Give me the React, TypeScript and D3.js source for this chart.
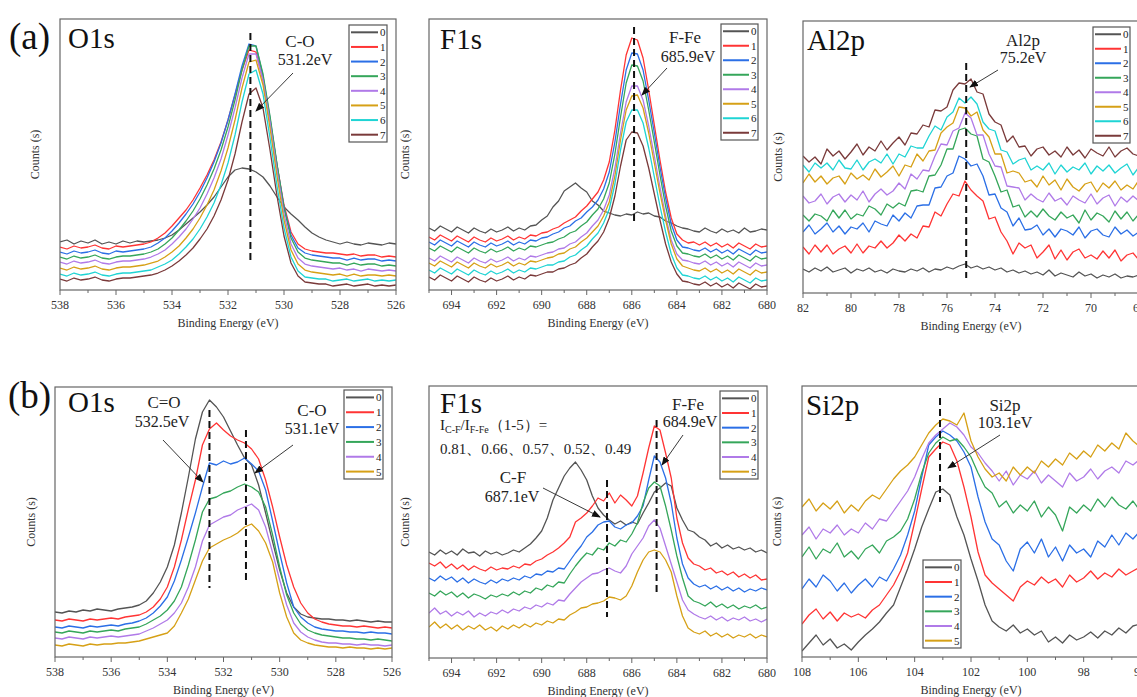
import React from 'react';
import * as d3 from 'd3';

const FONT = "'Liberation Serif', 'Times New Roman', 'DejaVu Serif', serif";
const COLORS = ['#545454', '#ff3434', '#2b6fe6', '#35a65a', '#b07ae8', '#d6a016', '#1fd4d4', '#7a3a3a'];
const NAMES = ['0', '1', '2', '3', '4', '5', '6', '7'];
const STEP = 0.25;

// ---------- (a) O1s ----------
const aO1sRange = [538, 526];
const aO1sTicks = [538, 536, 534, 532, 530, 528, 526];
const aO1s0 = [48,50,46,49,47,50,46,48,46,49,47,49,48,49,50,52,55,60,66,72,78,85,93,103,113,120,122,121,118,113,104,93,83,76,70,63,57,53,50,48,46,48,46,45,47,46,45,47,46];
const aO1s1 = [43,41,44,42,43,45,42,41,44,43,44,45,46,48,52,57,64,72,80,90,102,115,130,148,170,195,220,240,238,210,170,125,85,58,46,41,39,38,37,37,36,35,36,34,35,35,33,34,33];
const aO1s2 = [38,36,39,37,38,40,37,36,39,38,39,40,41,43,47,52,59,67,76,86,98,112,128,147,170,196,224,246,244,214,172,125,83,55,42,37,35,34,33,32,32,30,32,30,31,31,29,30,29];
const aO1s3 = [33,31,34,32,33,35,32,31,33,34,34,35,36,38,41,46,52,60,69,79,91,105,121,140,163,190,220,244,244,216,174,126,82,52,38,32,30,29,28,27,27,25,27,25,26,26,24,25,24];
const aO1s4 = [28,26,29,27,28,30,27,26,28,29,29,30,31,33,36,40,46,53,61,71,82,96,112,131,155,182,212,236,236,210,168,120,76,46,32,26,24,23,22,21,22,20,21,19,21,20,19,20,19];
const aO1s5 = [22,20,23,21,22,24,21,20,22,23,23,24,25,27,29,33,38,44,52,61,72,85,100,119,142,170,202,228,230,205,162,114,70,40,26,20,18,17,16,15,16,14,16,14,15,15,14,15,14];
const aO1s6 = [16,14,17,15,16,18,15,14,16,17,17,18,19,20,23,26,30,36,43,51,61,73,87,105,127,155,188,216,220,196,152,104,62,33,19,13,12,11,11,9,10,11,9,10,11,9,10,9,10];
const aO1s7 = [11,9,12,10,11,13,10,9,11,12,12,13,14,15,17,20,24,29,35,42,51,61,74,90,110,136,168,196,202,182,140,94,54,27,14,8,7,6,6,4,5,6,4,5,6,4,5,4,5];

// ---------- (a) F1s ----------
const aF1sRange = [695, 680];
const aF1sTicks = [694, 692, 690, 688, 686, 684, 682, 680];
const aF1s0 = [62,59,64,61,58,63,60,57,62,59,57,61,58,60,63,59,62,60,64,65,70,74,83,89,99,103,107,102,98,89,85,79,77,75,74,76,75,78,76,77,74,73,69,67,64,62,61,59,58,62,59,57,61,58,60,57,62,58,59,61,60];
const aF1s1 = [53,50,55,52,49,54,51,48,53,50,48,52,49,51,54,50,53,51,55,54,57,58,61,63,67,70,73,79,84,91,98,110,128,160,200,235,252,250,232,200,165,130,98,72,56,50,47,48,45,48,44,47,43,46,42,47,44,41,46,43,44];
const aF1s2 = [48,45,50,47,44,49,46,43,48,45,43,47,44,46,49,45,48,46,50,49,52,53,56,58,62,64,69,72,78,83,90,101,118,148,186,220,237,236,220,190,157,123,92,66,50,43,42,40,39,42,38,41,37,40,36,41,38,35,40,37,38];
const aF1s3 = [42,39,44,41,38,43,40,37,42,39,37,41,38,40,43,39,42,40,44,43,45,47,48,51,53,57,59,64,68,75,81,91,107,136,173,207,225,224,209,180,148,115,84,59,44,37,36,34,33,36,32,35,31,34,30,35,32,29,34,31,32];
const aF1s4 = [32,29,34,31,28,33,30,27,32,29,27,31,28,30,33,29,32,30,34,33,35,37,38,41,42,46,48,53,57,64,70,80,95,122,157,188,204,204,190,164,134,103,74,50,36,30,29,27,26,29,25,28,24,27,23,28,25,22,27,24,25];
const aF1s5 = [27,24,29,26,23,28,25,22,27,24,22,26,23,25,28,24,27,25,29,28,30,32,33,36,37,41,43,48,52,58,64,74,88,114,150,180,194,195,182,157,127,97,70,46,31,24,22,20,19,22,18,21,17,20,16,21,18,15,20,17,18];
const aF1s6 = [20,17,22,19,16,21,18,15,20,17,15,19,16,18,21,17,20,18,22,21,23,25,25,28,29,33,35,40,44,51,57,67,81,106,140,168,180,180,167,142,113,84,58,36,22,15,14,12,11,14,10,13,9,12,8,13,10,7,12,9,10];
const aF1s7 = [13,10,15,12,9,14,11,8,13,10,8,12,9,11,14,10,13,11,15,14,16,18,18,21,22,25,27,32,36,43,49,58,72,94,124,150,158,157,144,122,96,70,46,28,16,9,8,6,5,8,4,7,3,6,2,7,4,1,6,3,4];

// ---------- (a) Al2p ----------
const aAlRange = [82, 68];
const aAlTicks = [82, 80, 78, 76, 74, 72, 70, 68];
const aAl0 = [24,21,25,22,26,21,23,25,20,24,22,25,21,23,20,24,22,21,24,22,25,21,24,23,26,24,27,29,25,27,24,26,23,25,21,23,20,22,19,21,18,23,17,20,18,16,21,17,19,15,18,16,19,15,17,16,18];
const aAl1 = [46,39,48,41,48,39,44,47,40,49,40,47,45,52,45,50,58,52,59,55,67,66,81,77,89,99,97,112,103,97,92,74,76,61,52,39,50,45,48,35,41,48,34,43,33,41,44,35,38,34,42,35,43,32,38,40,33];
const aAl2 = [61,68,59,64,70,61,67,59,66,64,70,61,72,69,67,78,72,80,75,87,88,88,105,106,117,120,137,134,127,129,117,98,99,85,81,67,75,63,64,68,58,64,56,64,62,58,66,55,62,64,58,56,66,59,63,57,61];
const aAl3 = [78,72,79,77,72,83,75,83,74,79,77,87,84,78,89,85,90,87,102,103,101,117,118,128,144,144,163,165,159,157,134,131,117,101,103,86,88,76,82,76,84,77,73,81,75,78,70,83,73,80,77,71,82,74,81,72,79];
const aAl4 = [97,90,92,99,89,96,99,91,98,93,102,91,99,104,98,102,110,104,119,114,123,122,137,149,148,162,165,180,175,158,158,139,127,126,107,106,105,93,99,94,91,100,92,95,88,97,93,90,99,89,95,98,87,96,91,97,92];
const aAl5 = [110,119,111,117,109,115,117,109,120,114,118,113,124,116,121,127,117,128,126,139,132,142,143,160,166,170,186,185,177,181,163,156,139,139,120,122,120,111,113,106,117,108,113,103,114,106,102,109,111,101,110,105,112,103,108,104,113];
const aAl6 = [128,121,130,125,130,123,133,125,124,133,123,131,134,130,139,129,139,136,147,145,145,157,167,163,176,181,195,190,196,189,171,164,162,143,141,129,133,135,123,127,123,130,119,128,121,126,123,130,119,127,122,128,120,125,129,118,126];
const aAl7 = [137,131,136,129,144,137,142,134,141,149,138,146,142,152,143,150,156,148,160,159,168,166,183,182,186,203,210,209,214,201,199,179,171,168,151,157,146,147,137,144,146,138,142,136,146,138,143,135,144,140,137,146,136,142,145,139,137];

// ---------- (b) O1s ----------
const bO1sRange = [538, 526];
const bO1sTicks = [538, 536, 534, 532, 530, 528, 526];
const bO1s0 = [45,44,46,45,47,46,48,47,46,48,49,50,52,56,64,75,90,112,144,180,218,245,257,250,240,226,212,199,192,172,144,115,87,64,50,43,40,39,38,38,37,37,36,37,36,35,36,35,35];
const bO1s1 = [37,36,38,37,36,38,37,38,39,38,40,41,42,45,50,58,70,90,117,148,177,212,228,234,227,221,217,214,208,198,177,150,120,92,70,54,44,38,35,33,32,31,31,30,31,30,29,30,29];
const bO1s2 = [30,29,31,30,29,31,30,31,32,31,33,34,36,39,44,51,60,76,97,120,144,170,194,192,196,193,195,199,193,186,167,136,104,74,50,40,34,30,28,27,26,26,25,25,24,25,24,24,23];
const bO1s3 = [25,24,26,25,24,26,25,26,27,26,28,29,30,33,37,41,47,56,70,92,117,145,158,160,164,166,170,173,170,165,150,122,90,62,44,33,27,24,22,21,20,19,19,18,18,17,18,17,16];
const bO1s4 = [19,18,20,19,18,20,19,20,21,20,21,22,23,26,29,33,37,44,54,70,90,116,132,136,140,142,147,150,153,147,130,104,77,52,34,25,20,17,15,14,14,13,13,12,13,12,12,11,12];
const bO1s5 = [12,11,13,12,11,13,12,13,13,14,14,15,16,18,20,22,24,31,44,58,77,96,109,113,117,120,124,130,133,126,114,95,64,40,24,17,14,12,11,10,10,9,10,9,9,8,9,8,9];

// ---------- (b) F1s ----------
const bF1sRange = [695, 680];
const bF1sTicks = [694, 692, 690, 688, 686, 684, 682, 680];
const bF1s0 = [106,103,108,104,107,103,109,105,106,102,107,104,106,103,105,108,106,110,114,120,127,140,158,170,182,190,196,188,178,162,150,143,138,134,137,133,136,134,145,155,166,170,175,172,150,138,128,126,121,118,112,115,110,113,109,111,108,110,106,108,105];
const bF1s1 = [95,92,96,90,94,89,93,88,92,89,87,91,88,90,89,92,90,94,93,97,99,103,106,110,115,121,136,140,145,152,160,157,165,155,163,158,152,162,185,210,232,228,205,180,140,115,100,94,92,88,90,85,87,83,86,81,84,80,83,78,79];
const bF1s2 = [80,77,82,78,81,76,80,75,79,76,74,78,75,79,77,80,78,82,80,84,83,87,86,90,89,97,105,112,121,126,133,136,137,131,129,133,135,142,152,178,202,196,180,155,120,94,80,74,71,73,69,72,68,71,67,70,66,69,67,70,68];
const bF1s3 = [65,62,67,63,66,61,65,60,64,62,59,63,61,64,62,66,63,67,65,70,68,73,71,76,75,84,92,99,105,103,110,108,115,112,118,116,124,135,155,170,176,172,152,128,102,80,62,57,55,52,56,51,54,50,53,49,52,50,53,49,51];
const bF1s4 = [45,50,44,47,42,46,43,47,41,45,42,46,44,48,45,49,47,51,49,53,51,55,53,58,57,64,70,76,80,84,85,88,90,87,85,92,104,112,120,132,138,130,112,94,76,58,48,44,41,39,42,38,41,37,40,38,41,37,39,36,39];
const bF1s5 = [31,36,30,34,29,33,28,32,29,33,28,31,27,32,29,33,30,34,31,35,33,37,35,39,38,43,46,50,51,54,55,57,61,60,58,62,72,86,98,106,108,106,98,86,62,42,30,26,24,27,22,25,21,24,20,23,21,24,20,23,21];

// ---------- (b) Si2p ----------
const bSiRange = [108, 96];
const bSiTicks = [108, 106, 104, 102, 100, 98, 96];
const bSi0 = [6,14,22,12,18,9,13,7,15,22,28,35,44,52,70,88,108,130,148,165,168,162,140,122,98,76,52,36,30,26,32,24,28,22,26,15,20,14,22,17,20,25,19,26,22,29,24,31,33];
const bSi1 = [33,42,48,38,45,36,44,40,43,39,47,52,62,72,86,104,135,168,200,208,215,212,196,170,140,105,82,74,68,62,56,70,76,72,80,74,78,70,82,75,79,86,78,84,80,88,82,86,90];
const bSi2 = [68,78,70,82,76,66,74,64,72,78,70,80,76,88,102,122,146,180,212,220,226,222,216,205,190,160,135,118,112,96,86,108,115,104,118,100,110,96,112,104,108,100,116,110,122,112,124,118,126];
const bSi3 = [100,110,98,108,104,114,100,106,98,108,112,104,116,120,126,138,158,184,204,214,220,216,218,210,200,184,170,164,150,156,144,152,146,156,140,150,142,126,150,144,152,146,158,150,160,152,148,156,146];
const bSi4 = [122,130,118,128,124,132,122,128,124,134,128,138,136,146,156,166,180,198,214,222,228,234,230,222,210,204,194,186,176,186,172,182,178,186,174,182,176,170,184,176,180,188,178,186,190,184,196,192,198];
const bSi5 = [150,158,146,154,148,156,144,152,146,156,162,158,168,178,186,192,200,212,224,232,238,236,232,244,216,200,188,180,184,176,190,182,190,184,196,190,198,192,204,198,206,200,212,206,214,208,224,216,210];

type TextItem = { t: string; x: number; y: number; size: number; anchor?: string };
type PanelCfg = {
  id: string;
  left: number; right: number; top: number; bottom: number;
  range: number[]; ticks: number[]; series: number[][];
  title: string; titleX: number; titleY: number;
  legend: { x: number; y: number; w: number; h: number };
  dashed: { e: number; y1: number; y2: number }[];
  texts: TextItem[];
  arrows: number[][];
  yLabelX: number;
};

const panels: PanelCfg[] = [
  {
    id: 'aO1s', left: 60, right: 396, top: 19, bottom: 290, range: aO1sRange, ticks: aO1sTicks,
    series: [aO1s0, aO1s1, aO1s2, aO1s3, aO1s4, aO1s5, aO1s6, aO1s7],
    title: 'O1s', titleX: 68, titleY: 48, legend: { x: 349, y: 25, w: 38, h: 117 },
    dashed: [{ e: 531.2, y1: 33, y2: 262 }],
    texts: [{ t: 'C-O', x: 300, y: 47, size: 17 }, { t: '531.2eV', x: 305, y: 65, size: 16 }],
    arrows: [[293, 73, 256, 111]], yLabelX: 36,
  },
  {
    id: 'aF1s', left: 429, right: 767, top: 19, bottom: 290, range: aF1sRange, ticks: aF1sTicks,
    series: [aF1s0, aF1s1, aF1s2, aF1s3, aF1s4, aF1s5, aF1s6, aF1s7],
    title: 'F1s', titleX: 440, titleY: 49, legend: { x: 721, y: 24, w: 37, h: 116 },
    dashed: [{ e: 685.9, y1: 27, y2: 225 }],
    texts: [{ t: 'F-Fe', x: 685, y: 43, size: 17 }, { t: '685.9eV', x: 688, y: 62, size: 16 }],
    arrows: [[667, 68, 642, 95]], yLabelX: 406,
  },
  {
    id: 'aAl', left: 803, right: 1139, top: 21, bottom: 293, range: aAlRange, ticks: aAlTicks,
    series: [aAl0, aAl1, aAl2, aAl3, aAl4, aAl5, aAl6, aAl7],
    title: 'Al2p', titleX: 807, titleY: 50, legend: { x: 1093, y: 27, w: 37, h: 116 },
    dashed: [{ e: 75.2, y1: 63, y2: 278 }],
    texts: [{ t: 'Al2p', x: 1023, y: 46, size: 17 }, { t: '75.2eV', x: 1023, y: 63, size: 16 }],
    arrows: [[998, 70, 970, 87]], yLabelX: 779,
  },
  {
    id: 'bO1s', left: 55, right: 392, top: 387, bottom: 657, range: bO1sRange, ticks: bO1sTicks,
    series: [bO1s0, bO1s1, bO1s2, bO1s3, bO1s4, bO1s5],
    title: 'O1s', titleX: 68, titleY: 412, legend: { x: 344, y: 390, w: 39, h: 89 },
    dashed: [{ e: 532.5, y1: 410, y2: 588 }, { e: 531.2, y1: 430, y2: 580 }],
    texts: [
      { t: 'C=O', x: 164, y: 408, size: 17 }, { t: '532.5eV', x: 162, y: 427, size: 16 },
      { t: 'C-O', x: 312, y: 416, size: 17 }, { t: '531.1eV', x: 312, y: 434, size: 16 },
    ],
    arrows: [[163, 440, 203, 482], [293, 445, 255, 473]], yLabelX: 32,
  },
  {
    id: 'bF1s', left: 429, right: 767, top: 386, bottom: 658, range: bF1sRange, ticks: bF1sTicks,
    series: [bF1s0, bF1s1, bF1s2, bF1s3, bF1s4, bF1s5],
    title: 'F1s', titleX: 440, titleY: 413, legend: { x: 720, y: 391, w: 38, h: 88 },
    dashed: [{ e: 687.1, y1: 480, y2: 617 }, { e: 684.9, y1: 420, y2: 593 }],
    texts: [
      { t: 'C-F', x: 513, y: 483, size: 17 }, { t: '687.1eV', x: 512, y: 502, size: 16 },
      { t: 'F-Fe', x: 688, y: 410, size: 17 }, { t: '684.9eV', x: 690, y: 427, size: 16 },
      { t: '0.81、0.66、0.57、0.52、0.49', x: 440, y: 454, size: 15, anchor: 'start' },
    ],
    arrows: [[543, 488, 600, 517], [683, 435, 662, 465]], yLabelX: 406,
  },
  {
    id: 'bSi', left: 802, right: 1140, top: 386, bottom: 657, range: bSiRange, ticks: bSiTicks,
    series: [bSi0, bSi1, bSi2, bSi3, bSi4, bSi5],
    title: 'Si2p', titleX: 806, titleY: 415, legend: { x: 923, y: 560, w: 38, h: 88 },
    dashed: [{ e: 103.1, y1: 398, y2: 502 }],
    texts: [{ t: 'Si2p', x: 1005, y: 411, size: 17 }, { t: '103.1eV', x: 1005, y: 428, size: 16 }],
    arrows: [[1000, 435, 948, 468]], yLabelX: 778,
  },
];

function Panel({ p }: { p: PanelCfg }) {
  const x = d3.scaleLinear().domain(p.range).range([p.left, p.right]);
  const y = d3.scaleLinear().domain([0, p.bottom - p.top]).range([p.bottom, p.top]);
  const start = p.range[0];
  const line = d3.line<number>().x((_, i) => x(start - i * STEP)).y((v) => y(v));
  const lo = Math.min(p.range[0], p.range[1]);
  const hi = Math.max(p.range[0], p.range[1]);
  const minor = d3.range(Math.ceil(lo), hi + 0.001, 1).filter((v) => !p.ticks.includes(v));
  const n = p.series.length;
  const rowH = p.legend.h / n;
  const font = { fontFamily: FONT };
  return (
    <g>
      <defs>
        <clipPath id={`clip-${p.id}`}>
          <rect x={p.left} y={p.top} width={p.right - p.left} height={p.bottom - p.top} />
        </clipPath>
      </defs>
      <g clipPath={`url(#clip-${p.id})`}>
        {p.series.map((s, i) => (
          <path key={i} d={line(s) || ''} fill="none" stroke={COLORS[i]} strokeWidth={1.3} strokeLinejoin="round" />
        ))}
      </g>
      <rect x={p.left} y={p.top} width={p.right - p.left} height={p.bottom - p.top} fill="none" stroke="#666" strokeWidth={1.2} />
      {p.ticks.map((t) => (
        <g key={t}>
          <line x1={x(t)} x2={x(t)} y1={p.bottom} y2={p.bottom + 5} stroke="#666" strokeWidth={1} />
          <text x={x(t)} y={p.bottom + 19} textAnchor="middle" fontSize={12} fill="#333" style={font}>{t}</text>
        </g>
      ))}
      {minor.map((t) => (
        <line key={`m${t}`} x1={x(t)} x2={x(t)} y1={p.bottom} y2={p.bottom + 3} stroke="#666" strokeWidth={1} />
      ))}
      <text x={(p.left + p.right) / 2} y={p.bottom + 37} textAnchor="middle" fontSize={12} fill="#333" style={font}>Binding Energy (eV)</text>
      <text transform={`translate(${p.yLabelX},${(p.top + p.bottom) / 2}) rotate(-90)`} textAnchor="middle" dominantBaseline="middle" fontSize={12} fill="#333" style={font}>Counts (s)</text>
      <text x={p.titleX} y={p.titleY} fontSize={29} fill="#111" style={font}>{p.title}</text>
      {p.dashed.map((d, i) => (
        <line key={`d${i}`} x1={x(d.e)} x2={x(d.e)} y1={d.y1} y2={d.y2} stroke="#111" strokeWidth={2} strokeDasharray="7,4" />
      ))}
      {p.texts.map((t, i) => (
        <text key={`t${i}`} x={t.x} y={t.y} fontSize={t.size} textAnchor={t.anchor || 'middle'} fill="#222" style={font}>{t.t}</text>
      ))}
      {p.arrows.map((a, i) => (
        <line key={`a${i}`} x1={a[0]} y1={a[1]} x2={a[2]} y2={a[3]} stroke="#222" strokeWidth={0.9} markerEnd="url(#arrowHead)" />
      ))}
      <g>
        <rect x={p.legend.x} y={p.legend.y} width={p.legend.w} height={p.legend.h} fill="#fff" stroke="#555" strokeWidth={1.2} />
        {p.series.map((_, i) => {
          const cy = p.legend.y + rowH * (i + 0.5);
          return (
            <g key={`l${i}`}>
              <line x1={p.legend.x + 2} x2={p.legend.x + p.legend.w - 9} y1={cy} y2={cy} stroke={COLORS[i]} strokeWidth={2} />
              <text x={p.legend.x + p.legend.w - 7} y={cy + 4} fontSize={11} fill="#222" style={font}>{NAMES[i]}</text>
            </g>
          );
        })}
      </g>
    </g>
  );
}

export default function App() {
  const font = { fontFamily: FONT };
  return (
    <svg width={1137} height={697} style={{ position: 'absolute', left: 0, top: 0, background: '#fff' }}>
      <defs>
        <marker id="arrowHead" markerUnits="userSpaceOnUse" markerWidth={9} markerHeight={7} refX={8} refY={3.5} orient="auto">
          <path d="M0,0 L9,3.5 L0,7 Z" fill="#111" />
        </marker>
      </defs>
      <rect x={0} y={0} width={1137} height={697} fill="#fff" />
      {panels.map((p) => <Panel key={p.id} p={p} />)}
      <text x={9} y={49} fontSize={37} fill="#111" style={font}>(a)</text>
      <text x={8} y={408} fontSize={37} fill="#111" style={font}>(b)</text>
      <text x={440} y={430} fontSize={15} fill="#222" style={font}>
        <tspan>I</tspan>
        <tspan dy={3} fontSize={10}>C-F</tspan>
        <tspan dy={-3}>/I</tspan>
        <tspan dy={3} fontSize={10}>F-Fe</tspan>
        <tspan dy={-3}>（1-5）=</tspan>
      </text>
    </svg>
  );
}
